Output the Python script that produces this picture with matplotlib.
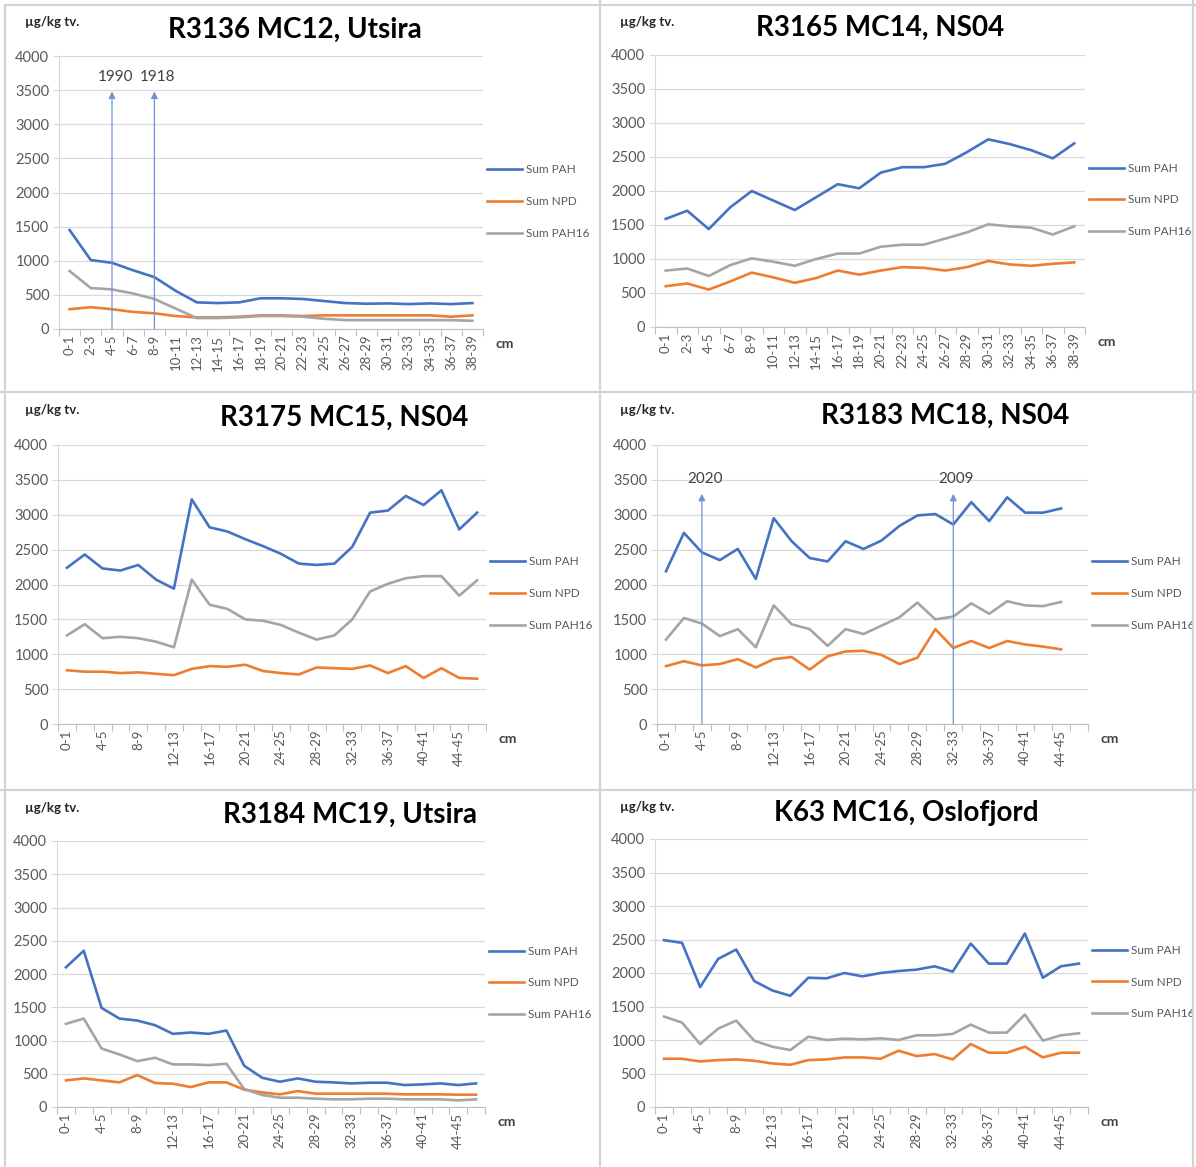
import numpy as np
import matplotlib
matplotlib.use("Agg")
import matplotlib.pyplot as plt
from matplotlib.lines import Line2D

plt.rcParams['font.family'] = ['Lato', 'DejaVu Sans']

# ---- data ----
cats_a = ["0-1", "2-3", "4-5", "6-7", "8-9", "10-11", "12-13", "14-15", "16-17", "18-19",
          "20-21", "22-23", "24-25", "26-27", "28-29", "30-31", "32-33", "34-35", "36-37", "38-39"]
cats_b = cats_a + ["40-41", "42-43", "44-45", "46-47"]

series_names = ["Sum PAH", "Sum NPD", "Sum PAH16"]

# R3136 MC12, Utsira
r3136_pah = [1450, 1010, 970, 860, 760, 560, 390, 380, 390, 450, 450, 440, 410, 380, 370, 375, 365, 375, 365, 380]
r3136_npd = [290, 320, 290, 250, 230, 190, 170, 170, 180, 200, 200, 190, 200, 200, 200, 200, 200, 200, 180, 200]
r3136_pah16 = [850, 600, 580, 520, 440, 300, 160, 160, 170, 190, 190, 180, 150, 130, 130, 130, 130, 130, 130, 120]

# R3165 MC14, NS04
r3165_pah = [1590, 1710, 1440, 1760, 2000, 1860, 1720, 1910, 2100, 2040, 2270, 2350, 2350, 2400, 2570, 2760, 2690, 2600, 2480, 2700]
r3165_npd = [600, 640, 550, 670, 800, 730, 650, 720, 830, 770, 830, 880, 870, 830, 880, 970, 920, 900, 930, 950]
r3165_pah16 = [830, 860, 750, 910, 1010, 960, 900, 1000, 1080, 1080, 1180, 1210, 1210, 1300, 1390, 1510, 1480, 1460, 1360, 1480]

# R3175 MC15, NS04
r3175_pah = [2240, 2430, 2230, 2200, 2280, 2070, 1940, 3220, 2820, 2760, 2650, 2550,
             2440, 2300, 2280, 2300, 2540, 3030, 3060, 3270, 3140, 3350, 2790, 3030]
r3175_npd = [770, 750, 750, 730, 740, 720, 700, 790, 830, 820, 850, 760,
             730, 710, 810, 800, 790, 840, 730, 830, 660, 800, 660, 650]
r3175_pah16 = [1270, 1430, 1230, 1250, 1230, 1180, 1100, 2070, 1710, 1650, 1500, 1480,
               1420, 1310, 1210, 1270, 1500, 1900, 2010, 2090, 2120, 2120, 1840, 2060]

# R3183 MC18, NS04
r3183_pah = [2190, 2740, 2460, 2350, 2510, 2080, 2950, 2620, 2380, 2330, 2620, 2510,
             2630, 2840, 2990, 3010, 2860, 3180, 2910, 3250, 3030, 3030, 3090]
r3183_npd = [830, 900, 840, 860, 930, 810, 930, 960, 780, 970, 1040, 1050,
             990, 860, 950, 1360, 1090, 1190, 1090, 1190, 1140, 1110, 1070]
r3183_pah16 = [1210, 1520, 1440, 1260, 1360, 1100, 1700, 1430, 1360, 1120, 1360, 1290,
               1410, 1530, 1740, 1500, 1540, 1730, 1580, 1760, 1700, 1690, 1750]

# R3184 MC19, Utsira
r3184_pah = [2100, 2350, 1490, 1330, 1300, 1230, 1100, 1120, 1100, 1150, 620, 440,
             380, 430, 380, 370, 355, 365, 365, 330, 340, 355, 330, 355]
r3184_npd = [400, 430, 400, 370, 480, 360, 350, 300, 370, 370, 260, 220,
             190, 240, 200, 200, 200, 200, 200, 190, 190, 190, 185, 185]
r3184_pah16 = [1250, 1330, 880, 790, 690, 740, 640, 640, 630, 650, 270, 180,
               140, 140, 125, 115, 115, 125, 125, 115, 115, 115, 100, 115]

# K63 MC16, Oslofjord
k63_pah = [2490, 2450, 1790, 2210, 2350, 1880, 1740, 1660, 1930, 1920, 2000, 1950,
           2000, 2030, 2050, 2100, 2020, 2440, 2140, 2140, 2590, 1930, 2100, 2140]
k63_npd = [720, 720, 680, 700, 710, 690, 650, 630, 700, 710, 740, 740,
           720, 840, 760, 790, 710, 940, 810, 810, 900, 740, 810, 810]
k63_pah16 = [1350, 1260, 940, 1170, 1290, 990, 900, 850, 1050, 1000, 1020, 1010,
             1025, 1000, 1070, 1070, 1090, 1230, 1110, 1110, 1380, 990, 1070, 1100]

titles = ["R3136 MC12, Utsira", "R3165 MC14, NS04", "R3175 MC15, NS04",
          "R3183 MC18, NS04", "R3184 MC19, Utsira", "K63 MC16, Oslofjord"]

# dating markers: (category, year label)
r3136_marks = [("4-5", "1990"), ("8-9", "1918")]
r3183_marks = [("4-5", "2020"), ("32-33", "2009")]

# ---- layout (pixels in a 1196x1167 canvas) ----
W, H = 1196, 1167
colors = ['#4472C4', '#ED7D31', '#A5A5A5']
txt_col = '#595959'

panels = [
    dict(cats=cats_a, data=[r3136_pah, r3136_npd, r3136_pah16], step=1, box=(59, 483, 56, 329),
         tpos=(295, 30), unit=(25, 22), marks=r3136_marks, mark_top=3480),
    dict(cats=cats_a, data=[r3165_pah, r3165_npd, r3165_pah16], step=1, box=(655, 1085, 55, 327),
         tpos=(880, 28), unit=(620, 22), marks=[], mark_top=0),
    dict(cats=cats_b, data=[r3175_pah, r3175_npd, r3175_pah16], step=2, box=(58, 486, 445, 724),
         tpos=(344, 418), unit=(25, 410), marks=[], mark_top=0),
    dict(cats=cats_b, data=[r3183_pah, r3183_npd, r3183_pah16], step=2, box=(657, 1088, 445, 724),
         tpos=(945, 416), unit=(620, 410), marks=r3183_marks, mark_top=3300),
    dict(cats=cats_b, data=[r3184_pah, r3184_npd, r3184_pah16], step=2, box=(57, 485, 841, 1107),
         tpos=(350, 815), unit=(25, 808), marks=[], mark_top=0),
    dict(cats=cats_b, data=[k63_pah, k63_npd, k63_pah16], step=2, box=(655, 1088, 839, 1107),
         tpos=(906, 813), unit=(620, 807), marks=[], mark_top=0),
]


def fx(x):
    return x / W


def fy(y):
    return 1 - y / H


fig = plt.figure(figsize=(W / 100, H / 100), dpi=100)
fig.patch.set_facecolor('white')

# panel separators
for (x0, y0, x1, y1) in [(5, 5, 1196, 5), (5, 5, 5, 1167), (600, 0, 600, 1167),
                         (0, 392, 1196, 392), (0, 790, 1196, 790), (1193, 0, 1193, 1167)]:
    fig.add_artist(Line2D([fx(x0), fx(x1)], [fy(y0), fy(y1)], color='#d3d3d3', lw=1.6))

for p, title in zip(panels, titles):
    x0, x1, yt, yb = p['box']
    ax = fig.add_axes([fx(x0), fy(yb), (x1 - x0) / W, (yb - yt) / H])
    cats = p['cats']
    n = len(cats)
    for vals, name, c in zip(p['data'], series_names, colors):
        ax.plot(np.arange(len(vals)), vals, color=c, lw=1.9, label=name, solid_joinstyle='round')

    ax.set_xlim(-0.5, n - 0.5)
    ax.set_ylim(0, 4000)
    ax.set_yticks(np.arange(0, 4001, 500))
    ax.grid(axis='y', color='#d9d9d9', lw=0.9)
    ax.set_axisbelow(True)
    for s in ['top', 'right']:
        ax.spines[s].set_visible(False)
    ax.spines['left'].set_color('#d9d9d9')
    ax.spines['bottom'].set_color('#bfbfbf')
    ax.tick_params(axis='y', length=4, color='#d9d9d9', labelsize=10.5, labelcolor=txt_col, pad=3)

    # tick marks between categories, labels at centers
    ax.set_xticks(np.arange(n + 1) - 0.5)
    ax.set_xticklabels([])
    ax.tick_params(axis='x', which='major', length=5, color='#bfbfbf')
    idx = np.arange(0, n, p['step'])
    ax.set_xticks(idx, minor=True)
    ax.set_xticklabels([cats[i] for i in idx], minor=True, rotation=90, fontsize=9.5, color=txt_col)
    ax.tick_params(axis='x', which='minor', length=0, pad=4)

    # dating arrows
    for cat, year in p['marks']:
        xi = cats.index(cat)
        ax.annotate('', xy=(xi, p['mark_top']), xytext=(xi, 0),
                    arrowprops=dict(arrowstyle='-|>', color='#6f93d6', lw=0.9,
                                    mutation_scale=10, shrinkA=0, shrinkB=0))
        ax.text(xi + 0.15, p['mark_top'] + 210, year, ha='center', va='center',
                fontsize=11, color='#404040')

    ax.annotate('cm', xy=(1, 0), xycoords='axes fraction', xytext=(9, -11),
                textcoords='offset points', ha='left', va='center', fontsize=10,
                fontweight='bold', color='#404040')

    ax.legend(loc='center left', bbox_to_anchor=(fx(x1 + 4), fy((yt + yb) / 2 + 9)),
              bbox_transform=fig.transFigure, frameon=False, fontsize=8.5,
              labelcolor=txt_col, handlelength=3.0, handletextpad=0.3,
              labelspacing=1.75, borderpad=0, borderaxespad=0)

    fig.text(fx(p['tpos'][0]), fy(p['tpos'][1]), title, ha='center', va='center',
             fontsize=20, fontweight='bold', color='black')
    fig.text(fx(p['unit'][0]), fy(p['unit'][1]), 'µg/kg tv.', ha='left', va='center',
             fontsize=9.5, fontweight='bold', color='#262626')

fig.savefig('out.png', dpi=100)
